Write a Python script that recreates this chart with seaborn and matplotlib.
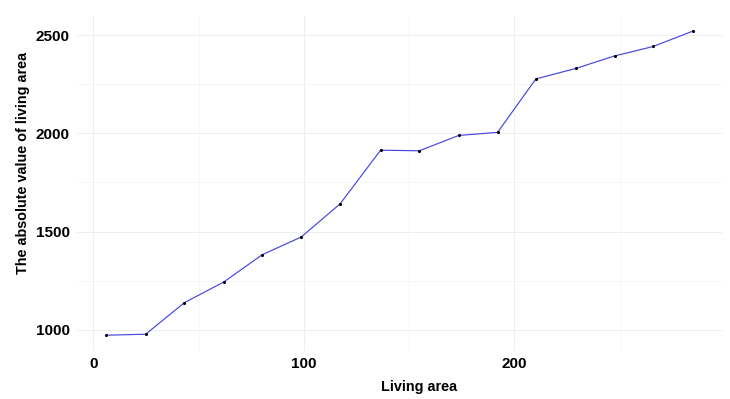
import matplotlib
matplotlib.use("Agg")
import matplotlib.pyplot as plt
import seaborn as sns
import pandas as pd
from matplotlib.ticker import MultipleLocator

living_area = [5.9, 24.8, 43.1, 61.9, 80.2, 98.7, 117.2, 136.4, 154.8, 173.5,
               192.0, 210.2, 229.1, 247.6, 265.9, 284.7]
abs_value = [972, 977, 1137, 1243, 1382, 1472, 1641, 1914, 1911, 1989,
             2005, 2277, 2330, 2394, 2442, 2520]
x_ticks = [0, 100, 200]
y_ticks = [1000, 1500, 2000, 2500]

df = pd.DataFrame({"x": living_area, "y": abs_value})

sns.set_theme(style="white")
plt.rcParams['font.family'] = ['Liberation Sans', 'DejaVu Sans']

fig = plt.figure(figsize=(7.3, 3.99), dpi=100)
ax = fig.add_axes([0.105, 0.1215, 0.884, 0.8385])

sns.lineplot(data=df, x="x", y="y", ax=ax, color="#4646e0", linewidth=0.85, zorder=3)
sns.scatterplot(data=df, x="x", y="y", ax=ax, color="black", s=5, linewidth=0, zorder=4)

ax.set_xlim(-8, 298.6)
ax.set_ylim(894, 2597.5)
ax.set_xticks(x_ticks)
ax.set_yticks(y_ticks)
ax.xaxis.set_minor_locator(MultipleLocator(50))
ax.yaxis.set_minor_locator(MultipleLocator(250))
ax.grid(True, which="major", color="#ebebeb", linewidth=0.6)
ax.grid(True, which="minor", color="#f3f3f3", linewidth=0.5)
ax.set_axisbelow(True)
for s in ax.spines.values():
    s.set_visible(False)
ax.tick_params(axis="both", which="both", length=0, labelsize=11, labelcolor="black", pad=5)
for lab in ax.get_xticklabels() + ax.get_yticklabels():
    lab.set_fontweight("bold")
ax.set_xlabel("Living area", fontsize=10.4, fontweight="bold", color="black")
ax.set_ylabel("The absolute value of living area", fontsize=10.4, fontweight="bold", color="black")
ax.xaxis.set_label_coords(0.53, -0.088)
ax.yaxis.set_label_coords(-0.073, 0.56)

fig.savefig("out.png", dpi=100, facecolor="white")
